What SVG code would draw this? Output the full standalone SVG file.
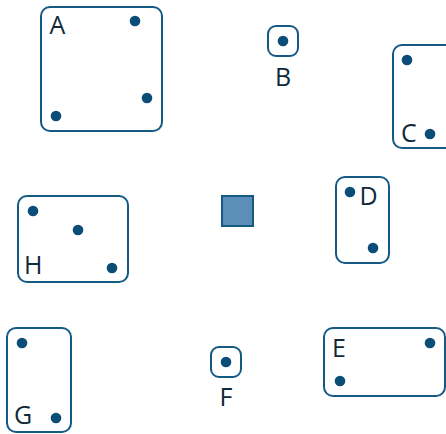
<svg xmlns="http://www.w3.org/2000/svg" width="446" height="434" viewBox="0 0 446 434">
<style>
.box{fill:#fff;stroke:#145a85;stroke-width:2}
.dot{fill:#0a4d78}
.lbl{font-family:"Open Sans","Noto Sans","DejaVu Sans",sans-serif;font-size:25px;fill:#10293a}
</style>
<rect width="446" height="434" fill="#fff"/>
<g id="A"><rect class="box" x="41" y="7" width="121" height="124" rx="9"/><circle class="dot" cx="135" cy="21" r="5.3"/><circle class="dot" cx="147" cy="98" r="5.3"/><circle class="dot" cx="56" cy="116" r="5.3"/><text class="lbl" x="49.5" y="34">A</text></g>
<g id="B"><rect class="box" x="268" y="26" width="30" height="30" rx="8"/><circle class="dot" cx="283" cy="41" r="5.3"/><text class="lbl" x="283" y="86" text-anchor="middle">B</text></g>
<g id="C"><rect class="box" x="393" y="45" width="62" height="103" rx="9"/><circle class="dot" cx="407" cy="60" r="5.3"/><circle class="dot" cx="430" cy="134" r="5.3"/><text class="lbl" x="401" y="142">C</text></g>
<g id="center"><rect x="222" y="196" width="31" height="30" fill="#5b8fba" stroke="#145a85" stroke-width="2"/></g>
<g id="D"><rect class="box" x="336" y="177" width="53" height="86" rx="9"/><circle class="dot" cx="350" cy="192" r="5.3"/><circle class="dot" cx="373" cy="248" r="5.3"/><text class="lbl" x="359.5" y="205">D</text></g>
<g id="H"><rect class="box" x="18" y="196" width="110" height="86" rx="9"/><circle class="dot" cx="33" cy="211" r="5.3"/><circle class="dot" cx="78" cy="230" r="5.3"/><circle class="dot" cx="112" cy="268" r="5.3"/><text class="lbl" x="24" y="274">H</text></g>
<g id="G"><rect class="box" x="7" y="328" width="64" height="104" rx="9"/><circle class="dot" cx="22" cy="343" r="5.3"/><circle class="dot" cx="56" cy="418" r="5.3"/><text class="lbl" x="14" y="424">G</text></g>
<g id="F"><rect class="box" x="211" y="347" width="30" height="30" rx="8"/><circle class="dot" cx="226" cy="362" r="5.3"/><text class="lbl" x="226" y="406" text-anchor="middle">F</text></g>
<g id="E"><rect class="box" x="324" y="328" width="121" height="68" rx="9"/><circle class="dot" cx="430" cy="343" r="5.3"/><circle class="dot" cx="340" cy="381" r="5.3"/><text class="lbl" x="332" y="357">E</text></g>
<g id="connectors"></g>
</svg>
